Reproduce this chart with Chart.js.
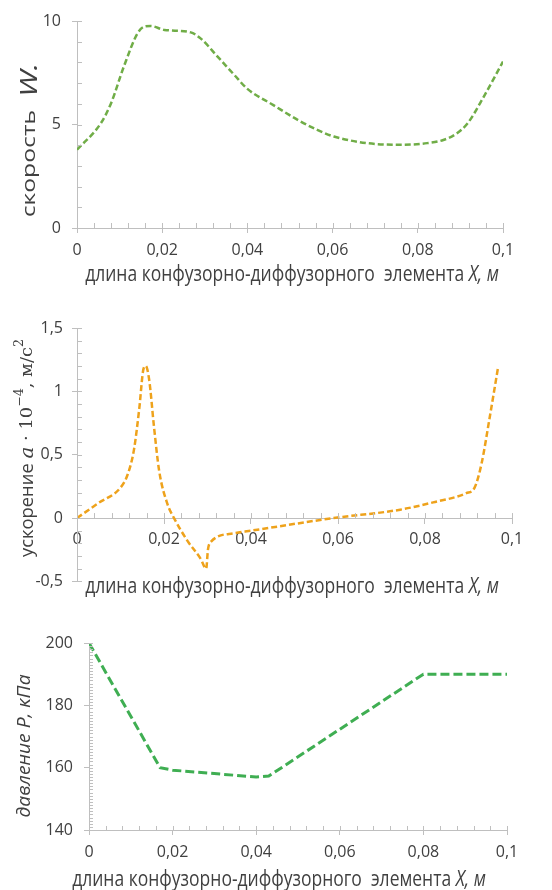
<!DOCTYPE html>
<html>
<head>
<meta charset="utf-8">
<script src="https://cdn.jsdelivr.net/npm/chart.js@4.4.1/dist/chart.umd.min.js"></script>
<style>
  body { margin: 0; background: #fff; }
  .box { position: absolute; left: 0; width: 552px; }
</style>
</head>
<body>
<div class="box" style="top:0"><canvas id="speedChart" width="552" height="290"></canvas></div>
<div class="box" style="top:290px"><canvas id="accelChart" width="552" height="310"></canvas></div>
<div class="box" style="top:600px"><canvas id="pressureChart" width="552" height="290"></canvas></div>
<script>
// ── Данные ──
const speedX = [0, 0.0056, 0.008, 0.011, 0.0142, 0.0158, 0.0173, 0.0205, 0.0267, 0.029, 0.033, 0.0369, 0.04, 0.046, 0.052, 0.0564, 0.0603, 0.0681, 0.0759, 0.0822, 0.086, 0.089, 0.0917, 0.0955, 0.1];
const speedW = [3.78, 5.06, 6.03, 7.8, 9.4, 9.73, 9.76, 9.57, 9.45, 9.16, 8.28, 7.4, 6.72, 5.95, 5.2, 4.74, 4.42, 4.1, 4.02, 4.1, 4.25, 4.55, 5.06, 6.35, 8.04];

const accelX = [0, 0.005, 0.01, 0.0116, 0.0131, 0.0143, 0.0153, 0.0158, 0.0166, 0.0177, 0.0189, 0.0208, 0.0223, 0.0254, 0.0284, 0.0297, 0.0301, 0.0307, 0.0361, 0.04, 0.059, 0.0743, 0.0819, 0.0895, 0.0914, 0.093, 0.0949, 0.0968];
const accelA = [0, 0.12, 0.24, 0.34, 0.54, 0.86, 1.18, 1.2, 1.09, 0.72, 0.37, 0.11, 0, -0.18, -0.32, -0.4, -0.25, -0.19, -0.12, -0.1, 0, 0.066, 0.124, 0.196, 0.24, 0.43, 0.8, 1.19];

const pressX = [0, 0.017, 0.02, 0.04, 0.043, 0.08, 0.1];
const pressP = [200, 160, 159.2, 157, 157.3, 190, 190];

const xTitleMain = 'длина конфузорно-диффузорного  элемента ';
const xTitleVar = 'X, м';

// ── Общие настройки ──
const AXIS_GREY = '#bfbfbf';
const TEXT_GREY = '#404040';
const tickFont = { family: "'Open Sans', sans-serif", size: 16 };

function commaFmt(v) {
  return String(+Number(v).toFixed(2)).replace('.', ',');
}

function toPoints(xs, ys) {
  return xs.map((x, i) => ({ x: x, y: ys[i] }));
}

// подписи осей с разными шрифтами в одной строке
const runTitles = {
  id: 'runTitles',
  afterDraw(chart, args, opts) {
    const ctx = chart.ctx;
    (opts.items || []).forEach(item => {
      ctx.save();
      ctx.translate(item.cx, item.cy);
      ctx.scale(1, item.stretch || 1);
      if (item.rotate) ctx.rotate(item.rotate);
      let total = 0;
      item.runs.forEach(r => { ctx.font = r.font; total += ctx.measureText(r.text).width; });
      let x = -total / 2;
      ctx.fillStyle = TEXT_GREY;
      ctx.textBaseline = 'middle';
      item.runs.forEach(r => {
        ctx.font = r.font;
        ctx.fillText(r.text, x, r.dy || 0);
        x += ctx.measureText(r.text).width;
      });
      ctx.restore();
    });
  }
};

// мелкие засечки внутрь области графика
const minorTicks = {
  id: 'minorTicks',
  afterDraw(chart, args, opts) {
    const ctx = chart.ctx;
    const xs = chart.scales.x, ys = chart.scales.y;
    const axisY = opts.xAxisAt !== undefined ? ys.getPixelForValue(opts.xAxisAt) : chart.chartArea.bottom;
    const axisX = chart.chartArea.left;
    ctx.save();
    ctx.strokeStyle = AXIS_GREY;
    ctx.lineWidth = 1;
    ctx.beginPath();
    const nx = Math.round((xs.max - xs.min) / opts.xStep);
    for (let i = 0; i <= nx; i++) {
      const px = Math.round(xs.getPixelForValue(xs.min + i * opts.xStep)) + 0.5;
      ctx.moveTo(px, axisY);
      ctx.lineTo(px, axisY - opts.len);
    }
    const ny = Math.round((ys.max - ys.min) / opts.yStep);
    for (let i = 0; i <= ny; i++) {
      const py = Math.round(ys.getPixelForValue(ys.min + i * opts.yStep)) + 0.5;
      ctx.moveTo(axisX, py);
      ctx.lineTo(axisX + opts.len, py);
    }
    ctx.stroke();
    ctx.restore();
  }
};

function axisOpts(min, max, step, extra) {
  return Object.assign({
    type: 'linear',
    min: min,
    max: max,
    grid: { drawOnChartArea: false, drawTicks: true, tickLength: 5, color: AXIS_GREY },
    border: { display: true, color: AXIS_GREY, width: 1 },
    ticks: { stepSize: step, color: TEXT_GREY, font: tickFont, callback: commaFmt, autoSkip: false, maxRotation: 0 }
  }, extra || {});
}

function makeChart(id, cfg) {
  return new Chart(document.getElementById(id), {
    type: 'line',
    data: {
      datasets: [{
        data: cfg.data,
        borderColor: cfg.color,
        borderWidth: cfg.width,
        borderDash: cfg.dash,
        pointRadius: 0,
        fill: false,
        tension: cfg.smooth ? 0.4 : 0,
        cubicInterpolationMode: cfg.smooth ? 'monotone' : 'default'
      }]
    },
    options: {
      responsive: false,
      animation: false,
      layout: { padding: cfg.padding },
      plugins: {
        legend: { display: false },
        tooltip: { enabled: false },
        minorTicks: cfg.minor,
        runTitles: { items: cfg.titles }
      },
      scales: {
        x: axisOpts(0, 0.1, 0.02, {
          position: cfg.xPosition || 'bottom',
          ticks: { stepSize: 0.02, color: TEXT_GREY, font: tickFont, callback: commaFmt, autoSkip: false, maxRotation: 0, padding: cfg.xPad },
          afterFit: s => { s.height = cfg.xHeight; }
        }),
        y: axisOpts(cfg.yMin, cfg.yMax, cfg.yStep, {
          ticks: { stepSize: cfg.yStep, color: TEXT_GREY, font: tickFont, callback: commaFmt, autoSkip: false, padding: cfg.yPad },
          afterFit: s => { s.width = cfg.yWidth; }
        })
      }
    },
    plugins: [minorTicks, runTitles]
  });
}

const F_TITLE = "17.5px 'Open Sans', sans-serif";
const F_TITLE_I = "italic 17.5px 'Open Sans', sans-serif";
const F_MATH = "17px 'DejaVu Serif', serif";
const F_MATH_I = "italic 19px 'DejaVu Serif', serif";
const F_SUP = "12px 'DejaVu Serif', serif";

function xTitle(cx, cy) {
  return { cx: cx, cy: cy, stretch: 1.2, runs: [
    { text: xTitleMain, font: F_TITLE },
    { text: xTitleVar, font: F_TITLE_I }
  ] };
}

// ── 1. Скорость ──
makeChart('speedChart', {
  data: toPoints(speedX, speedW),
  color: '#70ad47', width: 2.5, dash: [6, 3], smooth: true,
  padding: { top: 21, right: 49, left: 0, bottom: 0 },
  xHeight: 62, yWidth: 77, xPad: 8, yPad: 11,
  yMin: 0, yMax: 10, yStep: 5,
  minor: { xStep: 0.004, yStep: 1, len: 5 },
  titles: [
    xTitle(292, 275),
    { cx: 30, cy: 140, stretch: 1.3, rotate: -Math.PI / 2, runs: [
      { text: 'скорость  ', font: "19px 'Open Sans', sans-serif" },
      { text: 'W.', font: "italic 24px 'Open Sans', sans-serif" }
    ] }
  ]
});

// ── 2. Ускорение ──
makeChart('accelChart', {
  data: toPoints(accelX, accelA),
  color: '#eea21b', width: 2.5, dash: [6, 3], smooth: true,
  padding: { top: 38, right: 40, left: 0, bottom: 0 },
  xHeight: 41, yWidth: 77, xPad: 7, yPad: 9,
  xPosition: { y: 0 },
  yMin: -0.5, yMax: 1.5, yStep: 0.5,
  minor: { xStep: 0.004, yStep: 0.1, len: 5, xAxisAt: 0 },
  titles: [
    xTitle(292, 297),
    { cx: 28, cy: 158, stretch: 1.05, rotate: -Math.PI / 2, runs: [
      { text: 'ускорение ', font: F_TITLE },
      { text: 'a', font: F_MATH_I },
      { text: ' · 10', font: F_MATH },
      { text: '−4', font: F_SUP, dy: -8 },
      { text: ', м/с', font: F_MATH },
      { text: '2', font: F_SUP, dy: -8 }
    ] }
  ]
});

// ── 3. Давление ──
makeChart('pressureChart', {
  data: toPoints(pressX, pressP),
  color: '#3fae52', width: 3, dash: [9, 4], smooth: false,
  padding: { top: 43, right: 45, left: 0, bottom: 0 },
  xHeight: 60, yWidth: 89, xPad: 8, yPad: 11,
  yMin: 140, yMax: 200, yStep: 20,
  minor: { xStep: 0.004, yStep: 1, len: 4 },
  titles: [
    xTitle(279, 280),
    { cx: 25, cy: 146, stretch: 1.1, rotate: -Math.PI / 2, runs: [
      { text: 'давление P, кПа', font: F_TITLE_I }
    ] }
  ]
});
</script>
</body>
</html>
